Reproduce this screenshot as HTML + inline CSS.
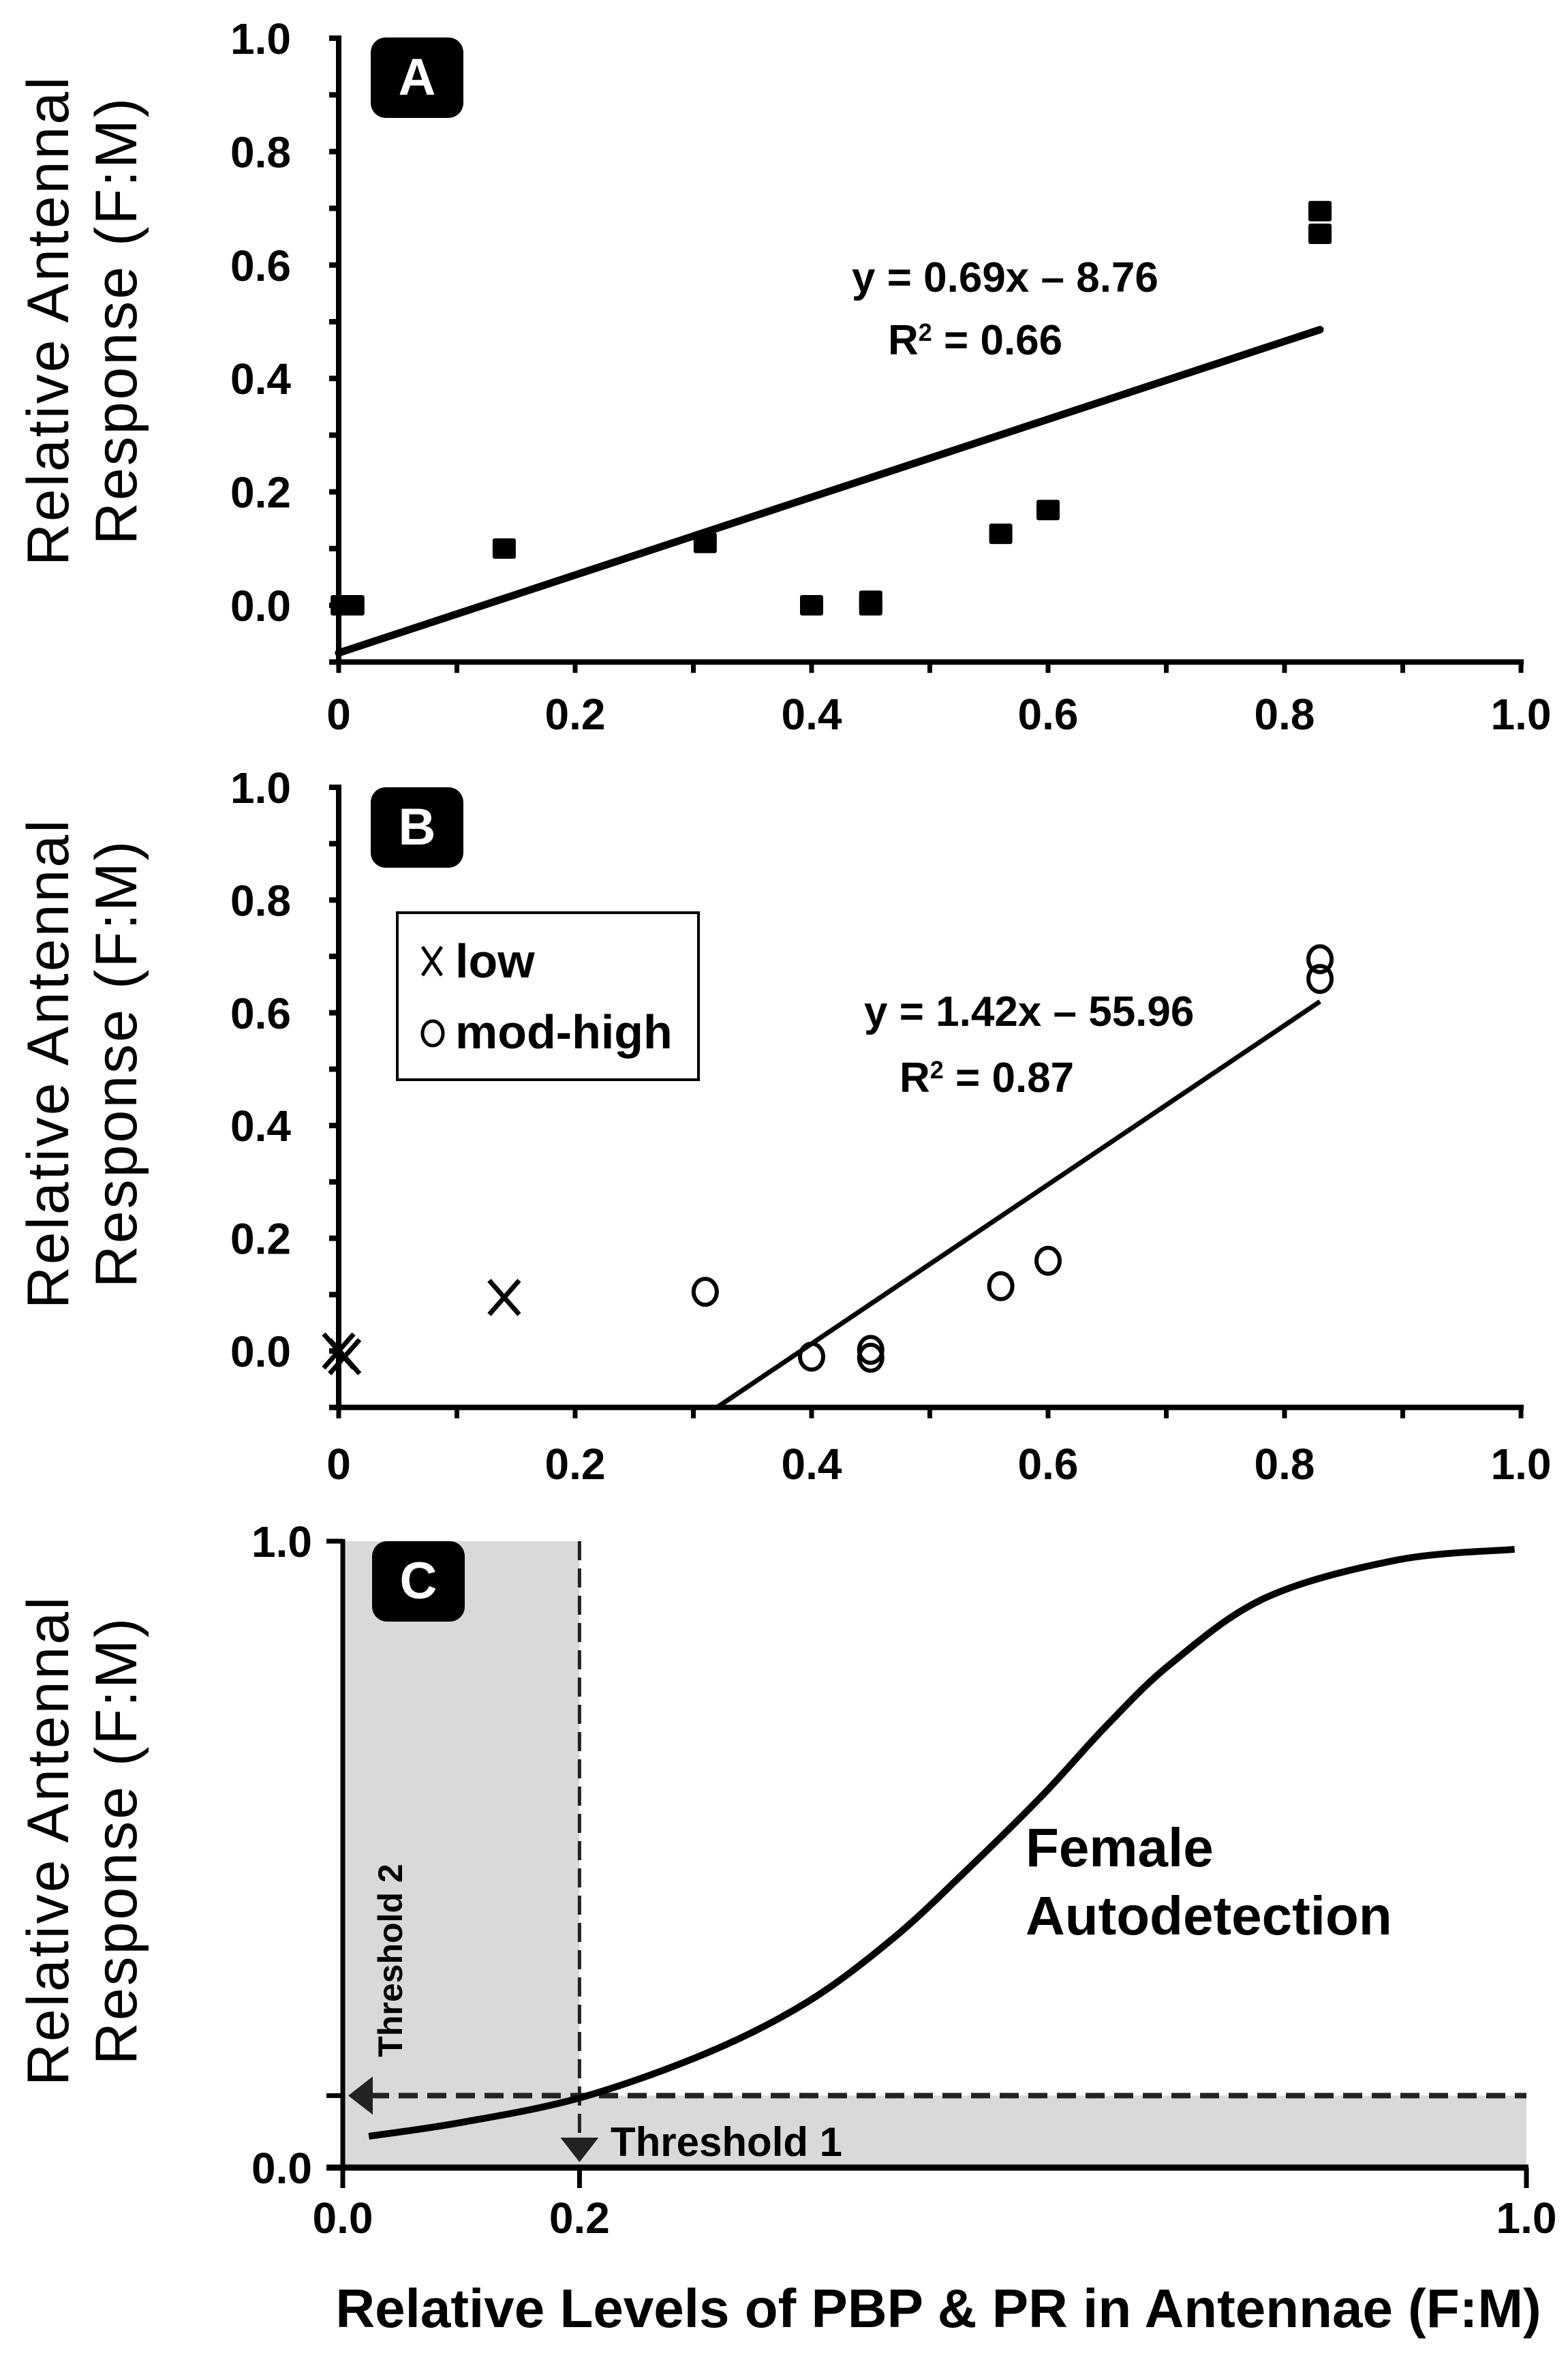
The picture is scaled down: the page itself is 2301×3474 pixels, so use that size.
<!DOCTYPE html>
<html><head><meta charset="utf-8"><style>
html,body{margin:0;padding:0;background:#fff;}
svg{display:block;}
.tick{font-family:"Liberation Sans",sans-serif;font-weight:bold;fill:#000;}
.ytitle{font-family:"Liberation Sans",sans-serif;fill:#000;letter-spacing:3px;}
.eq{font-family:"Liberation Sans",sans-serif;font-weight:bold;fill:#000;}
</style></head><body>
<svg id="fig" width="2301" height="3474" viewBox="0 0 2301 3474" xmlns="http://www.w3.org/2000/svg"></svg>
<script>
// ---- data ----
const aX = [0.003, 0.012, 0.14, 0.31, 0.40, 0.45, 0.45, 0.56, 0.60, 0.83, 0.83];
const aY = [0.0, 0.0, 0.10, 0.11, 0.0, 0.0, 0.008, 0.126, 0.168, 0.695, 0.655];
const aFit = [[0, -0.084], [0.83, 0.486]];
const bLowX = [0.0, 0.005, 0.14];
const bLowY = [0.0, -0.01, 0.095];
const bHighX = [0.31, 0.40, 0.45, 0.45, 0.56, 0.60, 0.83, 0.83];
const bHighY = [0.105, -0.01, 0.002, -0.012, 0.115, 0.16, 0.695, 0.66];
const bFit = [[0.32, -0.1], [0.83, 0.62]];
const cCurveX = [0.022, 0.1, 0.2015, 0.309, 0.393, 0.465, 0.525, 0.592, 0.645, 0.700, 0.780, 0.891, 0.990];
const cCurveY = [0.05, 0.072, 0.112, 0.184, 0.265, 0.366, 0.471, 0.596, 0.705, 0.805, 0.910, 0.970, 0.987];
const cThreshX = 0.2;
const cThreshY = 0.115;
const abTicks = ["0", "0.2", "0.4", "0.6", "0.8", "1.0"];
const abYTicks = ["0.0", "0.2", "0.4", "0.6", "0.8", "1.0"];
const cXTicks = ["0.0", "0.2", "1.0"];

const NS = "http://www.w3.org/2000/svg";
const svg = document.getElementById("fig");
function el(tag, attrs, parent, text) {
  const e = document.createElementNS(NS, tag);
  for (const k in attrs) e.setAttribute(k, attrs[k]);
  if (text !== undefined) e.textContent = text;
  (parent || svg).appendChild(e);
  return e;
}
function mk(x0, x1, y0, y1) {
  return { sx: v => x0 + (x1 - x0) * v, sy: v => y0 + (y1 - y0) * v };
}
const TF = "font-size:64px";

function yTitle(cy) {
  const t = el("text", { class: "ytitle", style: "font-size:86px", transform: "translate(100," + cy + ") rotate(-90)", "text-anchor": "middle" });
  
  
  el("tspan", { x: 0, dy: 0 }, t, "Relative Antennal");
  el("tspan", { x: 0, dy: 100 }, t, "Response (F:M)");
}
function labelBox(x, y, letter) {
  const g = el("g", {});
  
  
  el("rect", { x: x, y: y, width: 136, height: 118, rx: 22, fill: "#000" }, g);
  el("text", { x: x + 68, y: y + 84, "text-anchor": "middle", fill: "#fff", style: "font-family:'Liberation Sans',sans-serif;font-weight:bold;font-size:76px" }, g, letter);
}
function abAxes(s, top, bottom, labelY) {
  const g = el("g", {});
  
  
  const ax = s.sx(0), ay = s.sy(-0.1);
  el("line", { x1: ax, y1: top - 4, x2: ax, y2: ay + 4, stroke: "#000", "stroke-width": 8 }, g);
  el("line", { x1: ax - 14, y1: ay, x2: s.sx(1) + 4, y2: ay, stroke: "#000", "stroke-width": 8 }, g);
  for (let i = 0; i <= 10; i++) {
    const yy = s.sy(i / 10);
    el("line", { x1: ax - 14, y1: yy, x2: ax, y2: yy, stroke: "#000", "stroke-width": 8 }, g);
    const xx = s.sx(i / 10);
    el("line", { x1: xx, y1: ay, x2: xx, y2: ay + 16, stroke: "#000", "stroke-width": 7 }, g);
  }
  abYTicks.forEach((t, i) => {
    const tx = el("text", { class: "tick", style: TF, x: 427, y: s.sy(i * 0.2) + 23, "text-anchor": "end" }, g, t);
    
    
  });
  abTicks.forEach((t, i) => {
    const tx = el("text", { class: "tick", style: TF, x: s.sx(i * 0.2), y: labelY, "text-anchor": "middle" }, g, t);
    
    
  });
}

// ---- Panel A ----
const sA = mk(497, 2232, 888, 56);
yTitle(470);
abAxes(sA, 56, 971, 1070);
labelBox(544, 55, "A");
const fa = el("line", { x1: sA.sx(aFit[0][0]), y1: sA.sy(aFit[0][1]), x2: sA.sx(aFit[1][0]), y2: sA.sy(aFit[1][1]), stroke: "#000", "stroke-width": 11, "stroke-linecap": "round" });


aX.forEach((x, i) => {
  const r = el("rect", { x: sA.sx(x) - 17, y: sA.sy(aY[i]) - 15, width: 34, height: 30, fill: "#000", rx: 3 });
  
  
});
const ea = el("text", { class: "eq", style: "font-size:62px", x: 1250, y: 428 }, svg, "y = 0.69x – 8.76");


const ra = el("text", { class: "eq", style: "font-size:62px", x: 1303, y: 520 });


el("tspan", {}, ra, "R");
el("tspan", { dy: -20, style: "font-size:36px" }, ra, "2");
el("tspan", { dy: 20 }, ra, " = 0.66");

// ---- Panel B ----
const sB = mk(497, 2232, 1982, 1155);
yTitle(1560);
abAxes(sB, 1155, 2065, 2170);
labelBox(544, 1155, "B");
const fb = el("line", { x1: sB.sx(bFit[0][0]), y1: sB.sy(bFit[0][1]), x2: sB.sx(bFit[1][0]), y2: sB.sy(bFit[1][1]), stroke: "#000", "stroke-width": 7 });


bHighX.forEach((x, i) => {
  const c = el("ellipse", { cx: sB.sx(x), cy: sB.sy(bHighY[i]), rx: 17, ry: 19, fill: "none", stroke: "#000", "stroke-width": 6 });
  
  
});
bLowX.forEach((x, i) => {
  const cx = sB.sx(x), cy = sB.sy(bLowY[i]);
  const g = el("path", { d: `M${cx-22},${cy-25}L${cx+22},${cy+25}M${cx+22},${cy-25}L${cx-22},${cy+25}`, stroke: "#000", "stroke-width": 7 });
  
  
});
const leg = el("g", {});


el("rect", { x: 583, y: 1339, width: 442, height: 245, fill: "#fff", stroke: "#000", "stroke-width": 4 }, leg);
el("path", { d: "M620,1389L648,1431M648,1389L620,1431", stroke: "#000", "stroke-width": 5 }, leg);
el("text", { class: "eq", style: "font-size:70px", x: 668, y: 1434 }, leg, "low");
el("ellipse", { cx: 635, cy: 1516, rx: 15, ry: 18, fill: "none", stroke: "#000", "stroke-width": 5 }, leg);
el("text", { class: "eq", style: "font-size:70px", x: 668, y: 1538 }, leg, "mod-high");
const eb = el("text", { class: "eq", style: "font-size:62px", x: 1268, y: 1505 }, svg, "y = 1.42x – 55.96");


const rb = el("text", { class: "eq", style: "font-size:62px", x: 1320, y: 1602 });


el("tspan", {}, rb, "R");
el("tspan", { dy: -20, style: "font-size:36px" }, rb, "2");
el("tspan", { dy: 20 }, rb, " = 0.87");

// ---- Panel C ----
const sC = mk(503, 2240, 3180, 2261);
yTitle(2700);
const cx0 = sC.sx(0), cy0 = sC.sy(0), tx = sC.sx(cThreshX), ty = sC.sy(cThreshY);
const shade = el("path", { d: `M${cx0},${sC.sy(1)}L${tx},${sC.sy(1)}L${tx},${ty}L${sC.sx(1)},${ty}L${sC.sx(1)},${cy0}L${cx0},${cy0}Z`, fill: "#d9d9d9" });


labelBox(546, 2261, "C");
const gc = el("g", {});


el("line", { x1: cx0, y1: sC.sy(1) - 3, x2: cx0, y2: cy0 + 4, stroke: "#000", "stroke-width": 7 }, gc);
el("line", { x1: cx0 - 24, y1: cy0, x2: sC.sx(1) + 3, y2: cy0, stroke: "#000", "stroke-width": 9 }, gc);
[1, cThreshY].forEach(v => el("line", { x1: cx0 - 24, y1: sC.sy(v), x2: cx0, y2: sC.sy(v), stroke: "#000", "stroke-width": 7 }, gc));
[0, 0.2, 1].forEach(v => el("line", { x1: sC.sx(v), y1: cy0, x2: sC.sx(v), y2: cy0 + 30, stroke: "#000", "stroke-width": 7 }, gc));
el("text", { class: "tick", style: TF, x: 458, y: sC.sy(1) + 23, "text-anchor": "end" }, gc, "1.0");
el("text", { class: "tick", style: TF, x: 458, y: cy0 + 23, "text-anchor": "end" }, gc, "0.0");
cXTicks.forEach(t => el("text", { class: "tick", style: TF, x: sC.sx(parseFloat(t)), y: 3276, "text-anchor": "middle" }, gc, t));
const dv = el("line", { x1: tx, y1: sC.sy(1), x2: tx, y2: cy0 - 36, stroke: "#222", "stroke-width": 5, "stroke-dasharray": "28,12" });


const dh = el("line", { x1: cx0 + 40, y1: ty, x2: sC.sx(1), y2: ty, stroke: "#222", "stroke-width": 8, "stroke-dasharray": "28,14" });


el("path", { d: `M${tx-28},${cy0-44}L${tx+28},${cy0-44}L${tx},${cy0-8}Z`, fill: "#222" });
el("path", { d: `M${cx0+8},${ty}L${cx0+44},${ty-28}L${cx0+44},${ty+28}Z`, fill: "#222" });
const pts = cCurveX.map((x, i) => [sC.sx(x), sC.sy(cCurveY[i])]);
let d = `M${pts[0][0]},${pts[0][1]}`;
for (let i = 0; i < pts.length - 1; i++) {
  const p0 = pts[Math.max(0, i - 1)], p1 = pts[i], p2 = pts[i + 1], p3 = pts[Math.min(pts.length - 1, i + 2)];
  const c1 = [p1[0] + (p2[0] - p0[0]) / 6, p1[1] + (p2[1] - p0[1]) / 6];
  const c2 = [p2[0] - (p3[0] - p1[0]) / 6, p2[1] - (p3[1] - p1[1]) / 6];
  d += `C${c1[0]},${c1[1]} ${c2[0]},${c2[1]} ${p2[0]},${p2[1]}`;
}
const curve = el("path", { d: d, fill: "none", stroke: "#000", "stroke-width": 10 });


const t1 = el("text", { class: "eq", style: "font-size:60px", x: 896, y: 3163 }, svg, "Threshold 1");


const t2 = el("text", { x: 0, y: 0, transform: "translate(590,2876) rotate(-90)", "text-anchor": "middle", style: "font-family:'Liberation Sans',sans-serif;font-weight:bold;font-size:50px" }, svg, "Threshold 2");


const fl = el("text", { class: "eq", style: "font-size:80px", x: 1505, y: 2738 }, svg, "Female");


const fl2 = el("text", { class: "eq", style: "font-size:80px", x: 1505, y: 2838 }, svg, "Autodetection");


const xt = el("text", { class: "eq", style: "font-size:80px", x: 1377, y: 3414, "text-anchor": "middle" }, svg, "Relative Levels of PBP & PR in Antennae  (F:M)");


</script>
</body></html>
